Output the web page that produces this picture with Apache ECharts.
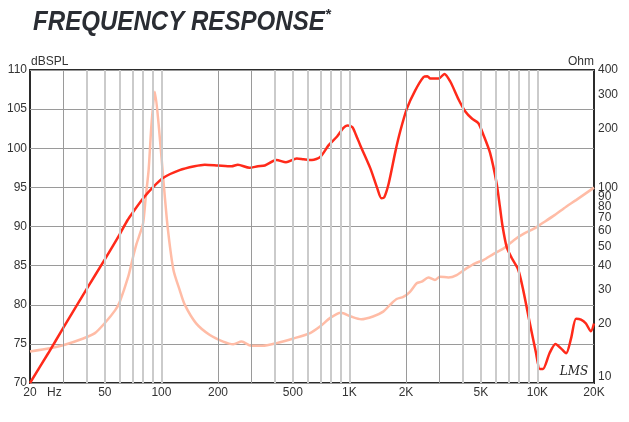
<!DOCTYPE html>
<html>
<head>
<meta charset="utf-8">
<script src="https://cdn.jsdelivr.net/npm/echarts@6/dist/echarts.min.js"></script>
<style>html,body{margin:0;padding:0;background:#fff;}#c{width:629px;height:422px;}</style>
</head>
<body>
<div id="c"></div>
<script>
// ---- data ----
const splFreq = [20,25,30,40,50,60,66,70,80,90,102,125,150,170,200,236,255,294,326,355,409,460,525,570,632,700,776,860,930,975,1036,1080,1146,1294,1406,1480,1530,1618,1757,1865,2024,2240,2481,2600,2695,2985,3200,3444,3814,4135,4482,4854,5163,5600,6070,6320,6530,6860,7290,7900,8400,9120,9800,10290,10710,11600,12480,13380,14220,15100,16050,17050,18120,19250,20000];
const splDb = [70,73.8,77.0,82.0,85.8,89.0,90.8,91.7,93.6,95.0,96.2,97.2,97.7,97.9,97.8,97.7,97.9,97.5,97.7,97.8,98.5,98.2,98.7,98.6,98.5,98.9,100.4,101.5,102.6,102.9,102.7,101.8,100.3,97.4,94.9,93.6,93.7,95.5,99.6,102.2,105.1,107.4,109.1,109.2,108.9,108.9,109.5,108.5,106.2,104.7,103.8,103.2,101.7,99.4,95.5,92.5,90.0,87.4,86.0,84.5,81.9,77.6,74.0,71.8,71.8,73.8,75.0,74.4,73.8,75.7,78.2,78.1,77.6,76.6,77.6];
const impFreq = [20,25.6,30,38.4,44.3,50.3,56.8,60,66.6,70.6,73.7,77.3,80,82.6,85.5,88.6,92.3,96.6,102.5,107.9,115.9,125,133.3,153,181,213,241,267,300,345,410,504,618,700,794,900,1020,1155,1335,1513,1644,1783,1935,2100,2280,2425,2630,2850,3030,3360,3720,4210,4660,5160,5850,6630,7520,8520,9640,10460,12340,14220,16050,20000];
const impOhm = [14.5,15.05,15.6,16.9,18.0,20.4,23.6,26,35,44,51.5,59,66,90,123,212,310,212,109,63,37.9,30,25.1,20.2,17.6,16.3,15.8,16.3,15.5,15.5,16.0,16.9,18.0,19.5,21.6,22.9,21.9,21.2,21.9,23.2,25.1,26.9,27.6,29.3,32.4,33.0,34.7,33.7,35.0,34.7,35.7,38.7,41.0,42.6,45.8,48.9,54.0,58.3,61.8,65.1,72.3,79.9,86.3,100];
const xLabelVals = [20,50,100,200,500,1000,2000,5000,10000,20000];
const xLabelTexts = ['20','50','100','200','500','1K','2K','5K','10K','20K'];
const ohmTicks = [10,20,30,40,50,60,70,80,90,100,200,300,400];
const gridDark = [30,200,300,2000,3000];
const gridLight = [40,50,60,70,80,90,100,400,500,600,700,800,900,1000,4000,5000,6000,7000,8000,9000,10000];

const FONT = 'Liberation Sans, Arial, sans-serif';
const chart = echarts.init(document.getElementById('c'), null, {renderer:'canvas'});
const zip = (a,b) => a.map((v,i)=>[v,b[i]]);

chart.setOption({
  backgroundColor: '#ffffff',
  animation: false,
  grid: {left:30, right:35, top:70, bottom:39, show:true, borderColor:'#2b2b2b', borderWidth:2, backgroundColor:'transparent'},
  xAxis: {type:'log', logBase:10, min:20, max:20000,
    axisLine:{show:false}, axisTick:{show:false}, axisLabel:{show:false}, splitLine:{show:false}},
  yAxis: [
    {type:'value', min:70, max:110, interval:5, position:'left',
      axisLine:{show:false}, axisTick:{show:false},
      axisLabel:{color:'#333', fontSize:12, fontFamily:FONT, margin:3},
      splitLine:{show:true, lineStyle:{color:'#9a9a9a', width:1}}},
    {type:'log', logBase:10, min:10, max:400, position:'right',
      axisLine:{show:false}, axisTick:{show:false}, axisLabel:{show:false}, splitLine:{show:false}}
  ],
  series: [
    {type:'line', data:[], silent:true, z:1,
      markLine:{silent:true, symbol:'none', label:{show:false},
        data: gridLight.map(v=>({xAxis:v, lineStyle:{color:'#cbcbcb', width:2, type:'solid'}}))
          .concat(gridDark.map(v=>({xAxis:v, lineStyle:{color:'#9a9a9a', width:1, type:'solid'}})))}},
    {name:'Impedance', type:'line', yAxisIndex:1, data: zip(impFreq, impOhm), showSymbol:false, smooth:0.25, z:3,
      lineStyle:{color:'#ffbca6', width:2.5}},
    {name:'SPL', type:'line', yAxisIndex:0, data: zip(splFreq, splDb), showSymbol:false, smooth:0.25, z:4,
      lineStyle:{color:'#ff2a1a', width:2.5}}
  ]
});

function buildGraphics(){
  const g = [];
  const yLab = 393;
  xLabelVals.forEach((v,i)=>{
    const x = chart.convertToPixel({xAxisIndex:0}, v);
    g.push({type:'text', x:x, y:yLab, style:{text:xLabelTexts[i], fill:'#333', font:'12px '+FONT, align:'center', verticalAlign:'middle'}});
  });
  const x20 = chart.convertToPixel({xAxisIndex:0}, 20);
  g.push({type:'text', x:x20+17, y:yLab, style:{text:'Hz', fill:'#333', font:'12px '+FONT, align:'left', verticalAlign:'middle'}});
  const xr = chart.convertToPixel({xAxisIndex:0}, 20000);
  ohmTicks.forEach(v=>{
    const y = chart.convertToPixel({yAxisIndex:1}, v);
    g.push({type:'text', x:xr+4, y:(v===10? y-6 : y), style:{text:String(v), fill:'#333', font:'12px '+FONT, align:'left', verticalAlign:'middle'}});
  });
  const yTop = chart.convertToPixel({yAxisIndex:0}, 110);
  g.push({type:'text', x:x20+1, y:yTop-8, style:{text:'dBSPL', fill:'#333', font:'12px '+FONT, align:'left', verticalAlign:'middle'}});
  g.push({type:'text', x:xr, y:yTop-8, style:{text:'Ohm', fill:'#333', font:'12px '+FONT, align:'right', verticalAlign:'middle'}});
  g.push({type:'text', x:29, y:22, scaleX:0.86, originX:29, originY:22, style:{text:'FREQUENCY RESPONSE', fill:'#2a2d33', font:'italic bold 28px '+FONT, align:'left', verticalAlign:'middle'}});
  g.push({type:'text', x:325, y:15, style:{text:'*', fill:'#2a2d33', font:'italic bold 15px '+FONT, align:'left', verticalAlign:'middle'}});
  g.push({type:'text', x:574, y:372, style:{text:'LMS', fill:'#222', font:'italic 12px DejaVu Serif, serif', align:'center', verticalAlign:'middle'}});
  chart.setOption({graphic: g});
}
buildGraphics();
</script>
</body>
</html>
